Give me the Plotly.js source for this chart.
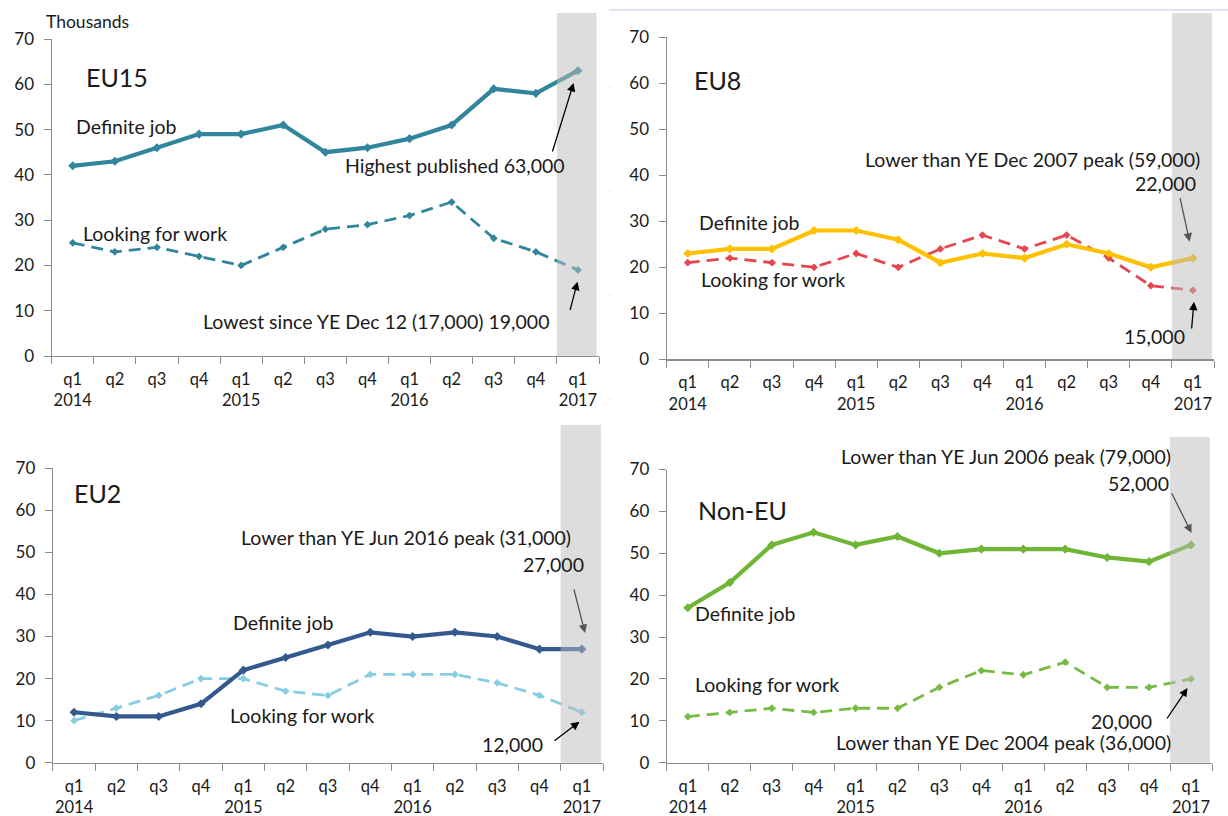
<!DOCTYPE html>
<html>
<head>
<meta charset="utf-8">
<script src="https://cdn.plot.ly/plotly-3.0.1.min.js"></script>
<style>html,body{margin:0;padding:0;background:#fff;}#chart{width:1228px;height:816px;}</style>
</head>
<body>
<div id="chart"></div>
<script>
// ---- data ----
const categories = ['2014 Q1','2014 Q2','2014 Q3','2014 Q4','2015 Q1','2015 Q2','2015 Q3','2015 Q4','2016 Q1','2016 Q2','2016 Q3','2016 Q4','2017 Q1'];
const tickLabels = ['q1<br>2014','q2','q3','q4','q1<br>2015','q2','q3','q4','q1<br>2016','q2','q3','q4','q1<br>2017'];
const yTicks = [0,10,20,30,40,50,60,70];

const eu15Definite = [42,43,46,49,49,51,45,46,48,51,59,58,63];
const eu15Looking  = [25,23,24,22,20,24,28,29,31,34,26,23,19];
const eu8Definite  = [23,24,24,28,28,26,21,23,22,25,23,20,22];
const eu8Looking   = [21,22,21,20,23,20,24,27,24,27,22,16,15];
const eu2Definite  = [12,11,11,14,22,25,28,31,30,31,30,27,27];
const eu2Looking   = [10,13,16,20,20,17,16,21,21,21,19,16,12];
const nonEuDefinite = [37,43,52,55,52,54,50,51,51,51,49,48,52];
const nonEuLooking  = [11,12,13,12,13,13,18,22,21,24,18,18,20];

// ---- layout helpers (pixel -> paper) ----
const W = 1228, H = 816;
const px = x => x / W;
const py = y => 1 - y / H;
const FONT = 'Lato, "Open Sans", sans-serif';
const TXT = '#1a1a1a';
const AFS = 19.5;

const panels = [
  {xa:'x',  ya:'y',  xd:[51.7,599],  yd:[39,356],    band:[11.5,12.44], bandTop:13},
  {xa:'x2', ya:'y2', xd:[666.7,1214],yd:[37.3,359.3],band:[11.5,12.45], bandTop:13},
  {xa:'x3', ya:'y3', xd:[52.9,603],  yd:[468.3,762.7],band:[11.5,12.45],bandTop:425},
  {xa:'x4', ya:'y4', xd:[666.9,1212],yd:[469.5,762.7],band:[11.5,12.45],bandTop:437}
];

function mkTrace(p, vals, color, width, dash, name) {
  return {
    type:'scatter', mode:'lines+markers', name:name,
    x: categories, y: vals, xaxis: p.xa, yaxis: p.ya,
    line:{color:color, width:width, dash:dash},
    marker:{symbol:'diamond', size: width>3?7:6, color:color},
    hoverinfo:'skip', showlegend:false, cliponaxis:false
  };
}

const data = [
  mkTrace(panels[0], eu15Definite, '#31859c', 4.2, 'solid', 'EU15 Definite job'),
  mkTrace(panels[0], eu15Looking,  '#31859c', 2.8, '12px,7px', 'EU15 Looking for work'),
  mkTrace(panels[1], eu8Looking,   '#e8464e', 2.8, '12px,7px', 'EU8 Looking for work'),
  mkTrace(panels[1], eu8Definite,  '#ffc000', 4.2, 'solid', 'EU8 Definite job'),
  mkTrace(panels[2], eu2Looking,   '#86cde3', 2.8, '12px,7px', 'EU2 Looking for work'),
  mkTrace(panels[2], eu2Definite,  '#34598f', 4.2, 'solid', 'EU2 Definite job'),
  mkTrace(panels[3], nonEuDefinite,'#6fb536', 4.2, 'solid', 'Non-EU Definite job'),
  mkTrace(panels[3], nonEuLooking, '#78bb44', 2.8, '12px,7px', 'Non-EU Looking for work')
];

const layout = {
  width: W, height: H,
  margin:{l:0,r:0,t:0,b:0},
  paper_bgcolor:'#fff', plot_bgcolor:'rgba(0,0,0,0)',
  font:{family:FONT, color:TXT, size:16},
  showlegend:false,
  shapes:[], annotations:[]
};

panels.forEach((p,i) => {
  const n = i===0 ? '' : String(i+1);
  layout['xaxis'+n] = {
    domain:[px(p.xd[0]), px(p.xd[1])], anchor:'y'+n,
    type:'category', categoryorder:'array', categoryarray:categories,
    range:[-0.5,12.5], tickmode:'array', tickvals:categories, ticktext:tickLabels,
    tickson:'boundaries', ticks:'outside', ticklen:7, tickwidth:1, tickcolor:'#8c8c8c',
    showline:true, linecolor:'#8c8c8c', linewidth:1.2, showgrid:false, zeroline:false,
    tickangle:0, automargin:false,
    tickfont:{family:FONT, size:16.5, color:TXT}, ticklabelstandoff:8, fixedrange:true
  };
  layout['yaxis'+n] = {
    domain:[py(p.yd[1]), py(p.yd[0])], anchor:'x'+n,
    range:[0,70], tickmode:'array', tickvals:yTicks,
    ticks:'outside', ticklen:7, tickwidth:1, tickcolor:'#8c8c8c',
    showline:true, linecolor:'#8c8c8c', linewidth:1.2, showgrid:false, zeroline:false,
    automargin:false,
    tickfont:{family:FONT, size:17, color:TXT}, ticklabelstandoff:6, fixedrange:true
  };
  layout.shapes.push({
    type:'rect', layer:'above', xref:'x'+n, yref:'paper',
    x0:p.band[0], x1:p.band[1], y0:py(p.yd[1]), y1:py(p.bandTop),
    fillcolor:'rgba(188,188,188,0.5)', line:{width:0}
  });
});

// screenshot frame remnants
layout.shapes.push({type:'line', xref:'paper', yref:'paper', x0:px(609), x1:px(1228), y0:py(10), y1:py(10), line:{color:'#d5dbe8', width:1.5}});
layout.shapes.push({type:'line', xref:'paper', yref:'paper', x0:px(610), x1:px(610), y0:py(35), y1:py(410), line:{color:'#c9d0e0', width:1, dash:'1px,25px'}});

function txt(text, x, y, size, anchor) {
  layout.annotations.push({text:text, xref:'paper', yref:'paper', x:px(x), y:py(y),
    xanchor:anchor||'left', yanchor:'middle', showarrow:false,
    font:{family:FONT, size:size, color:TXT}});
}
function arrow(hx, hy, tx, ty, color) {
  layout.annotations.push({text:'', xref:'paper', yref:'paper', x:px(hx), y:py(hy),
    axref:'pixel', ayref:'pixel', ax:tx-hx, ay:ty-hy, showarrow:true,
    arrowhead:2, arrowsize:1.3, arrowwidth:1.3, arrowcolor:color});
}

// Panel 1 - EU15
txt('Thousands', 44, 21.7, 17.5);
txt('EU15', 84, 77.3, 25);
txt('Definite job', 74, 126.7, AFS);
txt('Highest published 63,000', 343, 165.7, AFS);
txt('Looking for work', 81, 233.3, AFS);
txt('Lowest since YE Dec 12 (17,000) 19,000', 201, 321.7, AFS);
arrow(573.6, 83, 552, 153, '#000');
arrow(577.5, 281.7, 569.7, 311.7, '#000');

// Panel 2 - EU8
txt('EU8', 692.3, 80, 25);
txt('Lower than YE Dec 2007 peak (59,000)', 862.5, 160, AFS);
txt('22,000', 1198, 184, AFS, 'right');
txt('Definite job', 696.5, 223, AFS);
txt('Looking for work', 699, 279, AFS);
txt('15,000', 1187, 336.7, AFS, 'right');
arrow(1189.6, 241.7, 1179.8, 196.7, '#555');
arrow(1194, 301.7, 1191.5, 330, '#000');

// Panel 3 - EU2
txt('EU2', 72, 493, 25);
txt('Lower than YE Jun 2016 peak (31,000)', 239, 537, AFS);
txt('27,000', 586, 564, AFS, 'right');
txt('Definite job', 231, 622.7, AFS);
txt('Looking for work', 228, 715, AFS);
txt('12,000', 545, 744, AFS, 'right');
arrow(585, 633, 573.6, 588, '#555');
arrow(579.5, 721.7, 553, 742, '#000');

// Panel 4 - Non-EU
txt('Lower than YE Jun 2006 peak (79,000)', 839, 456.7, AFS);
txt('52,000', 1171, 483, AFS, 'right');
txt('Non-EU', 696, 510, 25);
txt('Definite job', 693, 613, AFS);
txt('Looking for work', 692.5, 684, AFS);
txt('20,000', 1154, 721.7, AFS, 'right');
txt('Lower than YE Dec 2004 peak (36,000)', 834, 742, AFS);
arrow(1191.5, 533, 1171, 491.7, '#555');
arrow(1187.6, 688, 1166, 720, '#000');

Plotly.newPlot('chart', data, layout, {staticPlot:true, displayModeBar:false});
</script>
</body>
</html>
